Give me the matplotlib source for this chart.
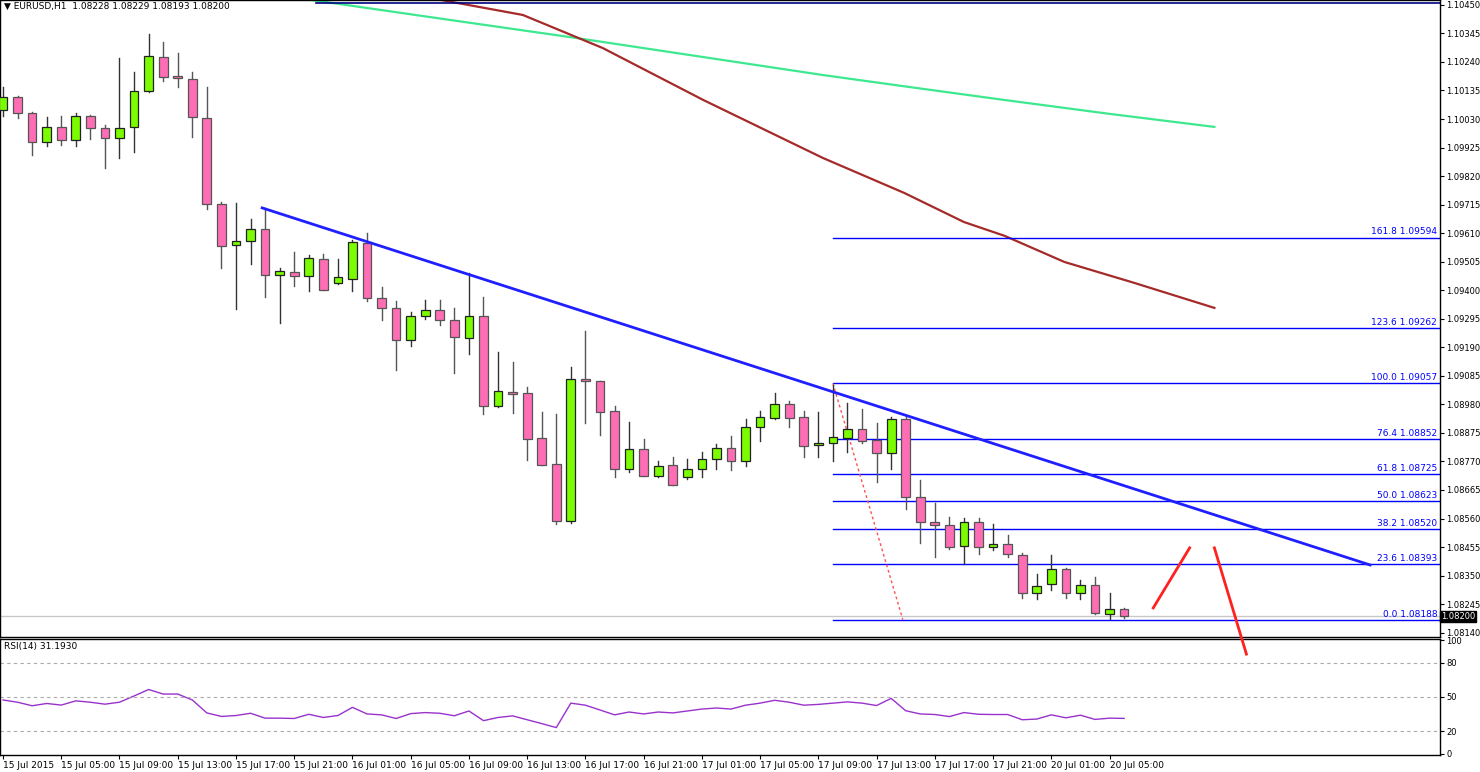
import matplotlib
matplotlib.use("Agg")
import matplotlib.pyplot as plt
import numpy as np
from datetime import datetime, timedelta

opens = [1.10063,1.10111,1.10052,1.09945,1.10001,1.09953,1.10041,1.09997,1.09960,1.10001,
         1.10133,1.10258,1.10188,1.10177,1.10034,1.09717,1.09566,1.09581,1.09625,1.09456,
         1.09467,1.09452,1.09515,1.09427,1.09441,1.09574,1.09371,1.09335,1.09217,1.09305,
         1.09327,1.09290,1.09224,1.09305,1.08974,1.09025,1.09022,1.08856,1.08760,1.08551,
         1.09073,1.09066,1.08956,1.08742,1.08816,1.08716,1.08757,1.08713,1.08742,1.08779,
         1.08819,1.08772,1.08897,1.08930,1.08981,1.08933,1.08830,1.08838,1.08856,1.08889,
         1.08849,1.08801,1.08926,1.08639,1.08547,1.08536,1.08459,1.08547,1.08455,1.08466,
         1.08426,1.08286,1.08319,1.08374,1.08286,1.08315,1.08208,1.08228]
highs = [1.10148,1.10115,1.10056,1.10037,1.10041,1.10052,1.10045,1.10008,1.10255,1.10203,
         1.10343,1.10313,1.10273,1.10203,1.10148,1.09725,1.09721,1.09662,1.09703,1.09482,
         1.09541,1.09530,1.09533,1.09515,1.09585,1.09611,1.09412,1.09360,1.09320,1.09364,
         1.09364,1.09335,1.09463,1.09375,1.09173,1.09136,1.09044,1.08952,1.08944,1.09117,
         1.09250,1.09066,1.08974,1.08915,1.08852,1.08772,1.08786,1.08779,1.08805,1.08834,
         1.08864,1.08926,1.08956,1.09022,1.08992,1.08956,1.08952,1.09051,1.08985,1.08963,
         1.08911,1.08933,1.08941,1.08702,1.08617,1.08565,1.08562,1.08562,1.08540,1.08499,
         1.08433,1.08356,1.08426,1.08378,1.08334,1.08345,1.08286,1.08229]
lows = [1.10041,1.10034,1.09898,1.09931,1.09934,1.09931,1.09957,1.09850,1.09887,1.09909,
        1.10129,1.10170,1.10148,1.09964,1.09699,1.09482,1.09331,1.09496,1.09375,1.09279,
        1.09416,1.09397,1.09401,1.09423,1.09397,1.09360,1.09290,1.09106,1.09195,1.09294,
        1.09272,1.09095,1.09165,1.08944,1.08970,1.08948,1.08775,1.08757,1.08540,1.08543,
        1.08911,1.08867,1.08713,1.08731,1.08716,1.08713,1.08683,1.08705,1.08713,1.08742,
        1.08738,1.08753,1.08845,1.08926,1.08897,1.08786,1.08786,1.08772,1.08805,1.08838,
        1.08694,1.08742,1.08595,1.08470,1.08418,1.08448,1.08392,1.08429,1.08444,1.08418,
        1.08267,1.08264,1.08297,1.08267,1.08264,1.08208,1.08190,1.08193]
closes = [1.10111,1.10052,1.09945,1.10001,1.09953,1.10041,1.09997,1.09960,1.09997,1.10133,
          1.10262,1.10185,1.10181,1.10037,1.09717,1.09563,1.09581,1.09625,1.09456,1.09471,
          1.09452,1.09519,1.09401,1.09449,1.09577,1.09371,1.09335,1.09217,1.09305,1.09327,
          1.09290,1.09228,1.09305,1.08974,1.09029,1.09018,1.08852,1.08757,1.08551,1.09073,
          1.09066,1.08952,1.08742,1.08816,1.08716,1.08753,1.08683,1.08742,1.08779,1.08819,
          1.08772,1.08897,1.08933,1.08981,1.08930,1.08827,1.08838,1.08860,1.08889,1.08845,
          1.08801,1.08926,1.08639,1.08547,1.08536,1.08455,1.08547,1.08455,1.08466,1.08429,
          1.08286,1.08312,1.08374,1.08286,1.08315,1.08212,1.08227,1.08200]
rsi = [47.4,45.4,42.3,44.3,42.9,46.6,45.4,43.7,45.4,50.9,
       56.6,52.6,52.6,47.4,36.0,32.9,33.7,35.7,31.4,31.4,
       31.1,34.8,32.0,33.7,40.9,35.1,34.3,31.1,35.4,36.3,
       35.7,33.5,37.7,29.2,32.0,33.4,30.0,26.6,23.1,44.6,
       42.8,38.6,34.3,36.8,35.1,36.8,36.0,37.7,39.4,40.3,
       39.4,42.8,44.6,47.1,45.4,42.8,43.5,44.6,45.7,44.6,
       42.5,48.8,37.9,35.1,34.6,32.8,36.3,34.8,34.6,34.6,
       30.0,30.6,34.3,31.7,34.0,30.3,31.4,31.193]

ma_green_x = [21.2, 30.0, 39.4, 48.1, 56.3, 62.5, 68.8, 76.0, 83.2]
ma_green_y = [1.10468, 1.10400, 1.10328, 1.10258, 1.10192, 1.10146, 1.10100, 1.10049, 1.10001]
ma_red_x = [30.1, 35.7, 41.2, 48.1, 56.3, 61.9, 66.0, 68.8, 72.9, 77.7, 83.2]
ma_red_y = [1.10468, 1.10413, 1.10291, 1.10100, 1.09887, 1.09758, 1.09651, 1.09600, 1.09504, 1.09427, 1.09335]

fib_pct = ["161.8", "123.6", "100.0", "76.4", "61.8", "50.0", "38.2", "23.6", "0.0"]
fib_px = [1.09594, 1.09262, 1.09057, 1.08852, 1.08725, 1.08623, 1.08520, 1.08393, 1.08188]

trend_x = [17.8, 93.9]
trend_y = [1.09703, 1.08389]
fib_diag_x = [57, 61.8]
fib_diag_y = [1.09057, 1.08188]
arrow1_x = [79.0, 81.5]; arrow1_y = [1.08231, 1.08452]
arrow2_x = [83.2, 85.4]; arrow2_y = [1.08452, 1.08061]

price_ticks = [round(1.10450 - 0.00105 * k, 5) for k in range(23)]

start = datetime(2015, 7, 15, 1)
times = []
t = start
for i in range(len(opens)):
    times.append(t)
    t = t + timedelta(hours=1)
    if t.weekday() == 5:
        t = t + timedelta(days=2)

W, H = 1480, 772
fig = plt.figure(figsize=(W/100, H/100), dpi=100)
fig.patch.set_facecolor("white")
xl = (-3/14.56, 1437/14.56)
ax = fig.add_axes([0, 1-637/H, 1440/W, 637/H])
ax2 = fig.add_axes([0, 1-755/H, 1440/W, 116/H])
ax.set_zorder(3); ax.patch.set_alpha(0)
ax.set_xlim(*xl); ax2.set_xlim(*xl)
ax.set_ylim(1.08124, 1.10468)
ax2.set_ylim(-1, 101)

idx = np.arange(len(opens))
for i in idx:
    o, h, l, c = opens[i], highs[i], lows[i], closes[i]
    up = c >= o
    ax.plot([i, i], [l, h], color="#333333" if up else "#555555", lw=1, zorder=3)
    b = min(o, c); hgt = max(abs(c - o), 0.00003)
    ax.add_patch(plt.Rectangle((i-0.3, b), 0.6, hgt, facecolor="#7CFC00" if up else "#FF6EB4",
                               edgecolor="#222222" if up else "#555555", lw=0.9, zorder=4))

ax.plot(ma_green_x, ma_green_y, color="#3DE88F", lw=1.6, zorder=2)
ax.plot(ma_red_x, ma_red_y, color="#A52A2A", lw=1.6, zorder=2)
ax.plot([21.5, 98.7], [1.10458, 1.10458], color="#000080", lw=1.2, zorder=2)
for p, v in zip(fib_pct, fib_px):
    ax.plot([57, 98.7], [v, v], color="#0000FF", lw=1, zorder=2)
    ax.text(98.5, v + 0.00004, f"{p} {v:.5f}", color="#0000FF", fontsize=6.5,
            ha="right", va="bottom", zorder=6)
ax.plot(fib_diag_x, fib_diag_y, color="#FF5050", lw=1, ls=(0, (2, 2)), zorder=2)
ax.plot(trend_x, trend_y, color="#1F1FFF", lw=2, zorder=5)
ax.axhline(closes[-1], color="#C8C8C8", lw=1, zorder=1)
ax.plot(arrow1_x, arrow1_y, color="#FF2020", lw=2, clip_on=False, zorder=7)
ax.plot(arrow2_x, arrow2_y, color="#FF2020", lw=2, clip_on=False, zorder=7)

ax.yaxis.tick_right()
ax.set_yticks(price_ticks)
ax.set_yticklabels([f"{v:.5f}" for v in price_ticks], fontsize=6)
ax.tick_params(axis="y", direction="out", length=3, pad=1.5)
ax.set_xticks([])
ax.text(98.75, closes[-1], f"{closes[-1]:.5f}", transform=ax.transData, fontsize=6,
        color="white", ha="left", va="center", clip_on=False, zorder=8,
        bbox=dict(boxstyle="square,pad=0.15", fc="black", ec="black"))
ax.text(0.003, 0.997, "\u25bc EURUSD,H1  1.08228 1.08229 1.08193 1.08200",
        transform=ax.transAxes, fontsize=6.5, va="top", ha="left")

ax2.plot(idx, rsi, color="#9932CC", lw=1)
for lv in [80, 50, 20]:
    ax2.axhline(lv, color="#AAAAAA", lw=0.8, ls=(0, (3, 3)))
ax2.yaxis.tick_right()
ax2.set_yticks([0, 20, 50, 80, 100])
ax2.set_yticklabels(["0", "20", "50", "80", "100"], fontsize=6)
ax2.tick_params(axis="y", direction="out", length=3, pad=1.5)
ax2.text(0.003, 0.97, f"RSI(14) {rsi[-1]:.4f}", transform=ax2.transAxes, fontsize=6.5, va="top")
tick_idx = list(range(0, len(opens), 4))
labels = []
for i in tick_idx:
    tt = times[i]
    labels.append(tt.strftime("%-d %b %Y") if i == 0 else tt.strftime("%-d %b %H:%M"))
ax2.set_xticks(tick_idx)
ax2.set_xticklabels(labels, fontsize=6.5, ha="left")
ax2.tick_params(axis="x", direction="out", length=3, pad=1)
for a in (ax, ax2):
    for s in a.spines.values():
        s.set_color("black"); s.set_linewidth(1)

fig.savefig("out.png", dpi=100)
